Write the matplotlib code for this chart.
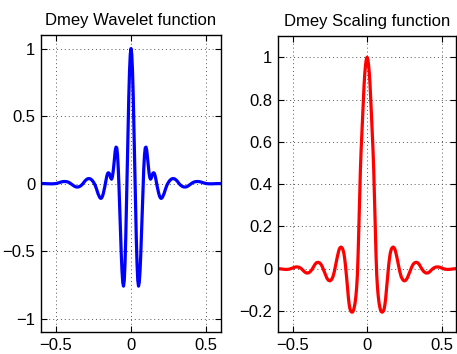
import numpy as np
import matplotlib
matplotlib.use("Agg")
import matplotlib.pyplot as plt

# values, right half (x >= 0); both functions are symmetric
wav_x = [0.000, 0.005, 0.010, 0.015, 0.020, 0.025, 0.030, 0.035, 0.040, 0.045,
         0.050, 0.055, 0.060, 0.065, 0.070, 0.075, 0.080, 0.085, 0.090, 0.095,
         0.100, 0.105, 0.110, 0.115, 0.120, 0.125, 0.130, 0.135, 0.140, 0.145,
         0.150, 0.155, 0.160, 0.165, 0.170, 0.175, 0.180, 0.185, 0.190, 0.195,
         0.200, 0.205, 0.210, 0.220, 0.230, 0.240, 0.250, 0.260, 0.270, 0.280,
         0.290, 0.300, 0.310, 0.320, 0.330, 0.340, 0.350, 0.360, 0.370, 0.380,
         0.390, 0.400, 0.410, 0.420, 0.430, 0.440, 0.450, 0.460, 0.470, 0.480,
         0.490, 0.500, 0.520, 0.540, 0.560, 0.580, 0.600]
wav_y = [1.000, 0.957, 0.832, 0.637, 0.392, 0.120, -0.152, -0.397, -0.592, -0.717,
         -0.760, -0.732, -0.649, -0.523, -0.364, -0.193, -0.029, 0.113, 0.214, 0.265,
         0.270, 0.245, 0.190, 0.130, 0.080, 0.045, 0.032, 0.040, 0.060, 0.075,
         0.080, 0.077, 0.060, 0.035, 0.005, -0.025, -0.050, -0.075, -0.093, -0.105,
         -0.110, -0.108, -0.100, -0.075, -0.040, -0.010, 0.010, 0.025, 0.034, 0.037,
         0.035, 0.027, 0.015, 0.000, -0.012, -0.020, -0.025, -0.026, -0.024, -0.018,
         -0.010, -0.002, 0.006, 0.011, 0.014, 0.015, 0.015, 0.013, 0.010, 0.006,
         0.003, 0.000, -0.002, -0.002, -0.001, 0.000, 0.000]

sca_x = [0.000, 0.005, 0.010, 0.015, 0.020, 0.025, 0.030, 0.035, 0.040, 0.045,
         0.050, 0.055, 0.060, 0.065, 0.070, 0.075, 0.080, 0.085, 0.090, 0.095,
         0.100, 0.105, 0.110, 0.115, 0.120, 0.125, 0.130, 0.135, 0.140, 0.145,
         0.150, 0.155, 0.160, 0.165, 0.170, 0.175, 0.180, 0.185, 0.190, 0.200,
         0.210, 0.220, 0.230, 0.240, 0.250, 0.260, 0.270, 0.280, 0.290, 0.300,
         0.310, 0.320, 0.330, 0.340, 0.350, 0.360, 0.370, 0.380, 0.390, 0.400,
         0.410, 0.420, 0.430, 0.440, 0.450, 0.460, 0.470, 0.480, 0.490, 0.500,
         0.520, 0.540, 0.560, 0.580, 0.600]
sca_y = [1.000, 0.990, 0.965, 0.925, 0.870, 0.800, 0.720, 0.640, 0.560, 0.460,
         0.330, 0.200, 0.070, -0.030, -0.090, -0.130, -0.160, -0.180, -0.195, -0.203,
         -0.206, -0.205, -0.200, -0.190, -0.170, -0.140, -0.100, -0.060, -0.020, 0.015,
         0.045, 0.070, 0.085, 0.095, 0.100, 0.102, 0.100, 0.095, 0.085, 0.055,
         0.020, -0.015, -0.040, -0.053, -0.058, -0.055, -0.045, -0.028, -0.010, 0.008,
         0.021, 0.028, 0.030, 0.028, 0.020, 0.008, -0.004, -0.013, -0.019, -0.021,
         -0.020, -0.015, -0.008, -0.001, 0.004, 0.007, 0.008, 0.008, 0.006, 0.003,
         -0.002, -0.004, -0.003, -0.001, 0.000]

titles = ["Dmey Wavelet function", "Dmey Scaling function"]


def mirror(x, y):
    x = np.array(x)
    y = np.array(y)
    return np.concatenate([-x[::-1], x[1:]]), np.concatenate([y[::-1], y[1:]])


plt.rcParams["font.family"] = ["Liberation Sans", "DejaVu Sans"]
plt.rcParams["font.size"] = 12

fig = plt.figure(figsize=(4.57, 3.54), dpi=100)
ax1 = fig.add_axes([0.0897, 0.062, 0.394, 0.839])
ax2 = fig.add_axes([0.6077, 0.062, 0.391, 0.836])

def style(ax, title):
    ax.set_xlim(-0.6, 0.6)
    ax.set_xticks([-0.5, 0, 0.5])
    ax.set_xticklabels(["\u22120.5", "0", "0.5"])
    ax.grid(True, linestyle=(0, (1, 3)), color="#555555", linewidth=0.7)
    ax.tick_params(direction="in", top=True, right=True, length=4, width=0.8,
                   pad=4, labelsize=12)
    for s in ax.spines.values():
        s.set_linewidth(1.0)
    ax.set_title(title, fontsize=12, pad=7)

x, y = mirror(wav_x, wav_y)
ax1.plot(x, y, color=(0, 0, 1), linewidth=2.3)
style(ax1, titles[0])
ax1.set_ylim(-1.1, 1.1)
ax1.set_yticks([-1, -0.5, 0, 0.5, 1])
ax1.set_yticklabels(["\u22121", "\u22120.5", "0", "0.5", "1"])

x, y = mirror(sca_x, sca_y)
ax2.plot(x, y, color=(1, 0, 0), linewidth=2.3)
style(ax2, titles[1])
ax2.set_ylim(-0.3, 1.1)
ax2.set_yticks([-0.2, 0, 0.2, 0.4, 0.6, 0.8, 1])
ax2.set_yticklabels(["\u22120.2", "0", "0.2", "0.4", "0.6", "0.8", "1"])

fig.savefig("out.png", dpi=100)
